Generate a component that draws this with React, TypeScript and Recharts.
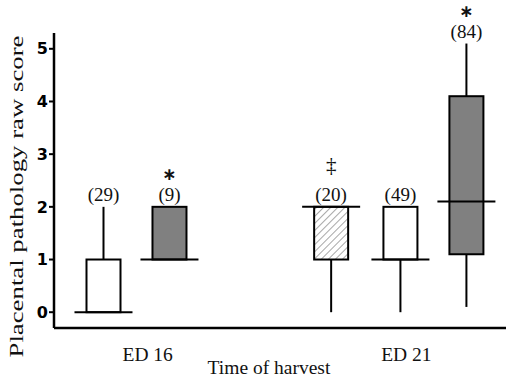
import React from 'react';
import {
  ComposedChart,
  Bar,
  Scatter,
  XAxis,
  YAxis,
  Label,
} from 'recharts';

// one entry per box, left to right
const xValues = [1, 2, 4.45, 5.5, 6.5];
const groups = ['Control', 'Treated', 'Sham', 'Control', 'Treated'];
const counts = ['(29)', '(9)', '(20)', '(49)', '(84)'];
const marks = ['', '∗', '‡', '', '∗'];
const mins = [0, 1, 0, 0, 0.1];
const q1s = [0, 1, 1, 1, 1.1];
const medians = [0, 1, 2, 1, 2.1];
const q3s = [1, 2, 2, 2, 4.1];
const maxs = [2, 2, 2, 2, 5.1];

const yTicks = [0, 1, 2, 3, 4, 5];
const xTickValues = [1.67, 5.59];
const xTickLabels = ['ED 16', 'ED 21'];

const rows = xValues.map((pos, i) => ({
  pos,
  base: mins[i],
  low: q1s[i] - mins[i],
  box: q3s[i] - q1s[i],
  high: maxs[i] - q3s[i],
  median: medians[i],
  max: maxs[i],
  count: counts[i],
  mark: marks[i],
  group: groups[i],
}));

const boxFill: Record<string, string> = {
  Control: '#ffffff',
  Treated: '#808080',
  Sham: 'url(#hatch)',
};

const serif = '"Liberation Serif", "Times New Roman", serif';

function Empty() {
  return <g />;
}

function Whisker(props: any) {
  const { x, y, width, height } = props;
  const cx = x + width / 2;
  return <line x1={cx} x2={cx} y1={y} y2={y + height} stroke="#000" strokeWidth={2} />;
}

function Box(props: any) {
  const { x, y, width, height, payload } = props;
  return (
    <rect
      x={x}
      y={y}
      width={width}
      height={height}
      fill={boxFill[payload.group]}
      stroke="#000"
      strokeWidth={2}
    />
  );
}

function MedianLine(props: any) {
  const { cx, cy } = props;
  return <line x1={cx - 29} x2={cx + 29} y1={cy} y2={cy} stroke="#000" strokeWidth={2} />;
}

function TopLabel(props: any) {
  const { cx, cy, payload } = props;
  const star = payload.mark === '∗';
  return (
    <g>
      <text x={cx} y={cy - 6} textAnchor="middle" fontFamily={serif} fontSize={19} fill="#111">
        {payload.count}
      </text>
      {payload.mark && (
        <text
          x={cx}
          y={star ? cy - 27 : cy - 35}
          textAnchor="middle"
          fontFamily={star ? '"DejaVu Sans", sans-serif' : serif}
          fontWeight={star ? 'bold' : 'normal'}
          fontSize={star ? 17 : 21}
          fill="#111"
        >
          {payload.mark}
        </text>
      )}
    </g>
  );
}

function YTitle(props: any) {
  const { viewBox } = props;
  const cx = 23;
  const cy = viewBox.y + viewBox.height / 2 + 16;
  return (
    <text
      x={cx}
      y={cy}
      transform={`rotate(-90, ${cx}, ${cy})`}
      textAnchor="middle"
      fontFamily={serif}
      fontSize={18}
      fill="#111"
      textLength={322}
      lengthAdjust="spacingAndGlyphs"
    >
      Placental pathology raw score
    </text>
  );
}

export default function App() {
  return (
    <div>
      <style>{'body{margin:0;background:#fff}'}</style>
      <ComposedChart
        width={506}
        height={382}
        data={rows}
        margin={{ top: 33, right: 0, bottom: 0, left: 0 }}
      >
        <defs>
          <pattern
            id="hatch"
            patternUnits="userSpaceOnUse"
            width={5}
            height={5}
            patternTransform="rotate(45)"
          >
            <rect width={5} height={5} fill="#fff" />
            <line x1={0} y1={0} x2={0} y2={5} stroke="#a8a8a8" strokeWidth={2} />
          </pattern>
        </defs>
        <XAxis
          type="number"
          dataKey="pos"
          domain={[0.25, 7.1]}
          ticks={xTickValues}
          tickFormatter={(v) => xTickLabels[xTickValues.indexOf(v)] ?? ''}
          height={54}
          tickLine={false}
          tickSize={0}
          tickMargin={19}
          axisLine={{ stroke: '#000', strokeWidth: 2.5 }}
          tick={{ fill: '#111', fontSize: 19.5, fontFamily: serif }}
        >
          <Label
            value="Time of harvest"
            position="insideBottom"
            offset={8}
            dx={-11}
            fill="#111"
            fontSize={19.5}
            fontFamily={serif}
          />
        </XAxis>
        <YAxis
          type="number"
          domain={[-0.3, 5.3]}
          ticks={yTicks}
          width={54}
          tickSize={5}
          tickMargin={1}
          interval={0}
          axisLine={{ stroke: '#000', strokeWidth: 2.5 }}
          tickLine={{ stroke: '#000', strokeWidth: 2 }}
          tick={{ fill: '#000', fontSize: 16, fontWeight: 'bold', fontFamily: '"DejaVu Sans", sans-serif' }}
          label={{ content: (p: any) => <YTitle {...p} /> }}
        />
        <Bar dataKey="base" stackId="b" barSize={34} shape={<Empty />} isAnimationActive={false} />
        <Bar dataKey="low" stackId="b" barSize={34} shape={<Whisker />} isAnimationActive={false} />
        <Bar dataKey="box" stackId="b" barSize={34} shape={<Box />} isAnimationActive={false} />
        <Bar dataKey="high" stackId="b" barSize={34} shape={<Whisker />} isAnimationActive={false} />
        <Scatter dataKey="median" shape={<MedianLine />} isAnimationActive={false} />
        <Scatter dataKey="max" shape={<TopLabel />} isAnimationActive={false} />
      </ComposedChart>
    </div>
  );
}
